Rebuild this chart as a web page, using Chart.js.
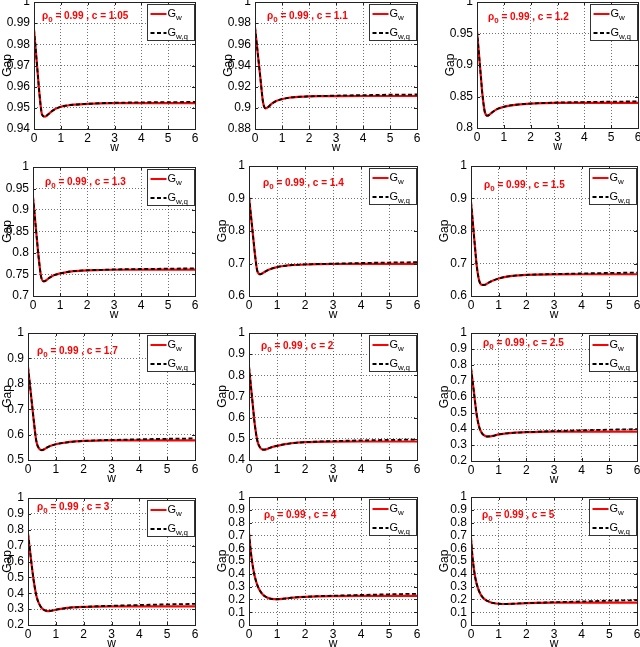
<!DOCTYPE html>
<html>
<head>
<meta charset="utf-8">
<script src="https://cdn.jsdelivr.net/npm/chart.js@4.4.0/dist/chart.umd.min.js"></script>
<style>
html, body { margin: 0; padding: 0; background: #fff; }
#fig { position: relative; width: 640px; height: 647px; overflow: hidden; }
#fig canvas { position: absolute; }
</style>
</head>
<body>
<div id="fig"></div>
<script>
// w values shared by every panel
const W = [0, 0.05, 0.1, 0.15, 0.2, 0.3, 0.4, 0.5, 0.6, 0.7, 0.8, 1, 1.25, 1.5, 2, 2.5, 3, 4, 5, 6];
const xTicks = [0, 1, 2, 3, 4, 5, 6];
const rho0 = '0.99';
const cValues = ['1.05', '1.1', '1.2', '1.3', '1.4', '1.5', '1.7', '2', '2.5', '3', '4', '5'];

// y axis range and tick step of each panel
const yMin  = [0.94, 0.88, 0.8, 0.7, 0.6, 0.6, 0.5, 0.4, 0.2, 0.2, 0, 0];
const yMax  = [1, 1, 1, 1, 1, 1, 1, 1, 1, 1, 1, 1];
const yStep = [0.01, 0.02, 0.05, 0.05, 0.1, 0.1, 0.1, 0.1, 0.1, 0.1, 0.1, 0.1];

// G_w (red) and G_w,q (black dashed)
const gw105  = [0.987, 0.9795, 0.972, 0.9645, 0.957, 0.9468, 0.9458, 0.9466, 0.9477, 0.9487, 0.9495, 0.9505, 0.9511, 0.9515, 0.9519, 0.9521, 0.9522, 0.9522, 0.9522, 0.9522];
const gwq105 = [0.987, 0.9795, 0.972, 0.9645, 0.957, 0.9468, 0.9458, 0.9466, 0.9477, 0.9487, 0.9495, 0.9505, 0.9511, 0.9515, 0.9519, 0.9522, 0.9524, 0.9526, 0.9527, 0.9528];
const gw11   = [0.976, 0.964, 0.952, 0.940, 0.928, 0.905, 0.8995, 0.901, 0.9035, 0.9052, 0.9066, 0.9082, 0.9095, 0.9102, 0.9108, 0.911, 0.9111, 0.9112, 0.9112, 0.9112];
const gwq11  = [0.976, 0.964, 0.952, 0.940, 0.928, 0.905, 0.8995, 0.901, 0.9035, 0.9052, 0.9066, 0.9082, 0.9095, 0.9102, 0.9108, 0.9112, 0.9116, 0.912, 0.9124, 0.9126];
const gw12   = [0.954, 0.929, 0.904, 0.879, 0.854, 0.824, 0.8195, 0.8225, 0.826, 0.8288, 0.831, 0.8335, 0.8358, 0.8372, 0.8388, 0.8395, 0.8398, 0.84, 0.84, 0.84];
const gwq12  = [0.954, 0.929, 0.904, 0.879, 0.854, 0.824, 0.8195, 0.8225, 0.826, 0.8288, 0.831, 0.8335, 0.8358, 0.8372, 0.8388, 0.8398, 0.8405, 0.8412, 0.8418, 0.8422];
const gw13   = [0.930, 0.896, 0.862, 0.828, 0.795, 0.745, 0.734, 0.737, 0.742, 0.746, 0.749, 0.7525, 0.7557, 0.7578, 0.7598, 0.7605, 0.761, 0.7612, 0.7612, 0.7612];
const gwq13  = [0.930, 0.896, 0.862, 0.828, 0.795, 0.745, 0.734, 0.737, 0.742, 0.746, 0.749, 0.7525, 0.7557, 0.7578, 0.7598, 0.7608, 0.7618, 0.7628, 0.7636, 0.7642];
const gw14   = [0.905, 0.863, 0.822, 0.78, 0.738, 0.676, 0.667, 0.671, 0.676, 0.6805, 0.684, 0.689, 0.6925, 0.6948, 0.697, 0.698, 0.6985, 0.699, 0.699, 0.699];
const gwq14  = [0.905, 0.863, 0.822, 0.78, 0.738, 0.676, 0.667, 0.671, 0.676, 0.6805, 0.684, 0.689, 0.6925, 0.6948, 0.697, 0.6985, 0.6995, 0.7015, 0.703, 0.704];
const gw15   = [0.889, 0.841, 0.793, 0.745, 0.698, 0.646, 0.634, 0.6345, 0.639, 0.644, 0.648, 0.654, 0.659, 0.662, 0.665, 0.666, 0.6665, 0.667, 0.667, 0.667];
const gwq15  = [0.889, 0.841, 0.793, 0.745, 0.698, 0.646, 0.634, 0.6345, 0.639, 0.644, 0.648, 0.654, 0.659, 0.662, 0.665, 0.6665, 0.6675, 0.6695, 0.671, 0.672];
const gw17   = [0.866, 0.815, 0.764, 0.713, 0.662, 0.574, 0.545, 0.539, 0.543, 0.55, 0.555, 0.562, 0.567, 0.571, 0.575, 0.5765, 0.577, 0.5775, 0.5775, 0.5775];
const gwq17  = [0.866, 0.815, 0.764, 0.713, 0.662, 0.574, 0.545, 0.539, 0.543, 0.55, 0.555, 0.562, 0.567, 0.571, 0.575, 0.5775, 0.579, 0.5815, 0.5835, 0.585];
const gw2    = [0.84, 0.773, 0.707, 0.64, 0.575, 0.49, 0.458, 0.449, 0.45, 0.455, 0.46, 0.467, 0.474, 0.479, 0.484, 0.486, 0.487, 0.4875, 0.4875, 0.4875];
const gwq2   = [0.84, 0.773, 0.707, 0.64, 0.575, 0.49, 0.458, 0.449, 0.45, 0.455, 0.46, 0.467, 0.474, 0.479, 0.484, 0.4875, 0.4895, 0.4925, 0.495, 0.4965];
const gw25   = [0.78, 0.71, 0.638, 0.565, 0.495, 0.41, 0.372, 0.358, 0.353, 0.354, 0.357, 0.366, 0.372, 0.376, 0.38, 0.382, 0.383, 0.3835, 0.3835, 0.3835];
const gwq25  = [0.78, 0.71, 0.638, 0.565, 0.495, 0.41, 0.372, 0.358, 0.353, 0.354, 0.357, 0.366, 0.372, 0.376, 0.38, 0.384, 0.387, 0.392, 0.396, 0.399];
const gw3    = [0.775, 0.70, 0.625, 0.552, 0.485, 0.385, 0.333, 0.306, 0.293, 0.288, 0.289, 0.296, 0.303, 0.309, 0.314, 0.316, 0.317, 0.3175, 0.3175, 0.3175];
const gwq3   = [0.775, 0.70, 0.625, 0.552, 0.485, 0.385, 0.333, 0.306, 0.293, 0.288, 0.289, 0.296, 0.303, 0.309, 0.314, 0.318, 0.321, 0.326, 0.33, 0.333];
const gw4    = [0.72, 0.60, 0.51, 0.44, 0.385, 0.31, 0.265, 0.237, 0.22, 0.21, 0.204, 0.201, 0.206, 0.213, 0.22, 0.224, 0.226, 0.227, 0.227, 0.227];
const gwq4   = [0.72, 0.60, 0.51, 0.44, 0.385, 0.31, 0.265, 0.237, 0.22, 0.21, 0.204, 0.201, 0.206, 0.213, 0.22, 0.225, 0.229, 0.235, 0.24, 0.244];
const gw5    = [0.68, 0.54, 0.445, 0.375, 0.325, 0.26, 0.222, 0.2, 0.187, 0.178, 0.172, 0.166, 0.164, 0.166, 0.171, 0.173, 0.1745, 0.1755, 0.1755, 0.1755];
const gwq5   = [0.68, 0.54, 0.445, 0.375, 0.325, 0.26, 0.222, 0.2, 0.187, 0.178, 0.172, 0.166, 0.164, 0.166, 0.171, 0.1745, 0.178, 0.184, 0.19, 0.194];

const redSeries   = [gw105, gw11, gw12, gw13, gw14, gw15, gw17, gw2, gw25, gw3, gw4, gw5];
const blackSeries = [gwq105, gwq11, gwq12, gwq13, gwq14, gwq15, gwq17, gwq2, gwq25, gwq3, gwq4, gwq5];

// plot box of each panel in page pixels: left, top, right, bottom
const boxes = [
  [34, 2, 195, 129], [255, 2, 417, 129], [477, 2, 638, 128],
  [33, 167, 195, 296], [249, 166, 417, 296], [471, 166, 637, 296],
  [28, 333, 195, 460], [249, 333, 417, 460], [471, 333, 637, 461],
  [28, 498, 195, 625], [249, 497, 417, 625], [471, 497, 637, 625]
];
// where the red rho/c note sits, offset from the plot's top-left corner
const noteOffset = [[8,14],[12,14],[11,15],[12,15],[14,17],[13,19],[9,18],[12,13],[12,10],[9,9],[15,18],[11,18]];

const FONT = "'Liberation Sans', Arial, Helvetica, sans-serif";
const PAD_T = 6, PAD_R = 5, X_H = 26, Y_W = 34;

function drawSub(ctx, x, y, main, sub, size, subSize, bold) {
  const b = bold ? 'bold ' : '';
  ctx.font = b + size + 'px ' + FONT;
  ctx.textBaseline = 'middle';
  ctx.fillText(main, x, y);
  x += ctx.measureText(main).width;
  ctx.font = b + subSize + 'px ' + FONT;
  ctx.fillText(sub, x, y + size * 0.38);
  return x + ctx.measureText(sub).width;
}

const decor = {
  id: 'decor',
  afterDraw(chart, args, opts) {
    const ctx = chart.ctx;
    const a = chart.chartArea;
    ctx.save();
    // axes frame
    ctx.strokeStyle = '#222';
    ctx.lineWidth = 1;
    ctx.strokeRect(Math.round(a.left) + 0.5, Math.round(a.top) + 0.5, Math.round(a.right - a.left), Math.round(a.bottom - a.top));
    // inward tick marks
    ctx.beginPath();
    chart.scales.x.ticks.forEach(t => {
      const px = Math.round(chart.scales.x.getPixelForValue(t.value)) + 0.5;
      ctx.moveTo(px, a.bottom); ctx.lineTo(px, a.bottom - 3);
      ctx.moveTo(px, a.top); ctx.lineTo(px, a.top + 3);
    });
    chart.scales.y.ticks.forEach(t => {
      const py = Math.round(chart.scales.y.getPixelForValue(t.value)) + 0.5;
      ctx.moveTo(a.left, py); ctx.lineTo(a.left + 3, py);
      ctx.moveTo(a.right, py); ctx.lineTo(a.right - 3, py);
    });
    ctx.stroke();

    // red note
    ctx.fillStyle = '#ff0000';
    let x = a.left + opts.note[0];
    const y = a.top + opts.note[1];
    x = drawSub(ctx, x, y, '\u03c1', '0', 10, 8, true);
    ctx.font = 'bold 10px ' + FONT;
    ctx.fillText(' = ' + rho0 + ' , c = ' + opts.c, x, y);

    // legend
    const lw = 47, lh = 36;
    const lx = Math.round(a.right - 1 - lw) + 0.5, ly = Math.round(a.top + 2) + 0.5;
    ctx.fillStyle = '#fff';
    ctx.fillRect(lx, ly, lw, lh);
    ctx.strokeStyle = '#333';
    ctx.lineWidth = 1;
    ctx.strokeRect(lx, ly, lw, lh);
    const r1 = ly + 9.5, r2 = ly + 28.5;
    ctx.strokeStyle = '#ff0000';
    ctx.lineWidth = 2;
    ctx.beginPath(); ctx.moveTo(lx + 3, r1); ctx.lineTo(lx + 19, r1); ctx.stroke();
    ctx.strokeStyle = '#000';
    ctx.lineWidth = 1.8;
    ctx.setLineDash([4, 2.5]);
    ctx.beginPath(); ctx.moveTo(lx + 3, r2); ctx.lineTo(lx + 19, r2); ctx.stroke();
    ctx.setLineDash([]);
    ctx.fillStyle = '#000';
    drawSub(ctx, lx + 20, r1, 'G', 'w', 11, 8, false);
    drawSub(ctx, lx + 20, r2, 'G', 'w,q', 11, 8, false);
    ctx.restore();
  }
};

const fig = document.getElementById('fig');

cValues.forEach((c, i) => {
  const [L, T, R, B] = boxes[i];
  const cl = Math.max(0, L - Y_W);
  const yW = L - cl;
  const canvas = document.createElement('canvas');
  const cw = R - cl + PAD_R, ch = (B - T) + PAD_T + X_H;
  canvas.width = cw; canvas.height = ch;
  canvas.style.width = cw + 'px'; canvas.style.height = ch + 'px';
  canvas.style.left = cl + 'px'; canvas.style.top = (T - PAD_T) + 'px';
  fig.appendChild(canvas);

  const yTicks = [];
  for (let v = yMin[i]; v <= yMax[i] + 1e-9; v += yStep[i]) yTicks.push(+v.toFixed(3));

  const tickFont = { family: FONT, size: 12 };
  new Chart(canvas, {
    type: 'line',
    data: {
      datasets: [
        {
          label: 'G_w,q',
          data: W.map((w, k) => ({ x: w, y: blackSeries[i][k] })),
          borderColor: '#000',
          borderWidth: 1.8,
          borderDash: [4, 2.5],
          order: 1
        },
        {
          label: 'G_w',
          data: W.map((w, k) => ({ x: w, y: redSeries[i][k] })),
          borderColor: '#ff0000',
          borderWidth: 2.2,
          order: 2
        }
      ]
    },
    options: {
      responsive: false,
      animation: false,
      devicePixelRatio: 1,
      layout: { padding: { top: PAD_T, right: PAD_R, left: 0, bottom: 0 } },
      elements: { point: { radius: 0 }, line: { cubicInterpolationMode: 'monotone', fill: false } },
      plugins: {
        legend: { display: false },
        tooltip: { enabled: false },
        decor: { c: c, note: noteOffset[i] }
      },
      scales: {
        x: {
          type: 'linear', min: 0, max: 6,
          afterBuildTicks: s => { s.ticks = xTicks.map(v => ({ value: v })); },
          ticks: { font: tickFont, color: '#000', padding: 2, autoSkip: false, maxRotation: 0 },
          grid: { color: 'rgba(0,0,0,0.55)', lineWidth: 1, drawTicks: false },
          border: { display: false, dash: [1, 2] },
          title: { display: true, text: 'w', color: '#000', font: tickFont, padding: 0 },
          afterFit: s => { s.height = X_H; s.paddingLeft = 0; s.paddingRight = 0; }
        },
        y: {
          type: 'linear', min: yMin[i], max: yMax[i],
          afterBuildTicks: s => { s.ticks = yTicks.map(v => ({ value: v })); },
          ticks: {
            font: tickFont, color: '#000', padding: 4, autoSkip: false,
            callback: v => String(+(+v).toFixed(3))
          },
          grid: { color: 'rgba(0,0,0,0.55)', lineWidth: 1, drawTicks: false },
          border: { display: false, dash: [1, 2] },
          title: { display: true, text: 'Gap', color: '#000', font: tickFont, padding: 0 },
          afterFit: s => { s.width = yW; s.paddingTop = 0; s.paddingBottom = 0; }
        }
      }
    },
    plugins: [decor]
  });
});
</script>
</body>
</html>
